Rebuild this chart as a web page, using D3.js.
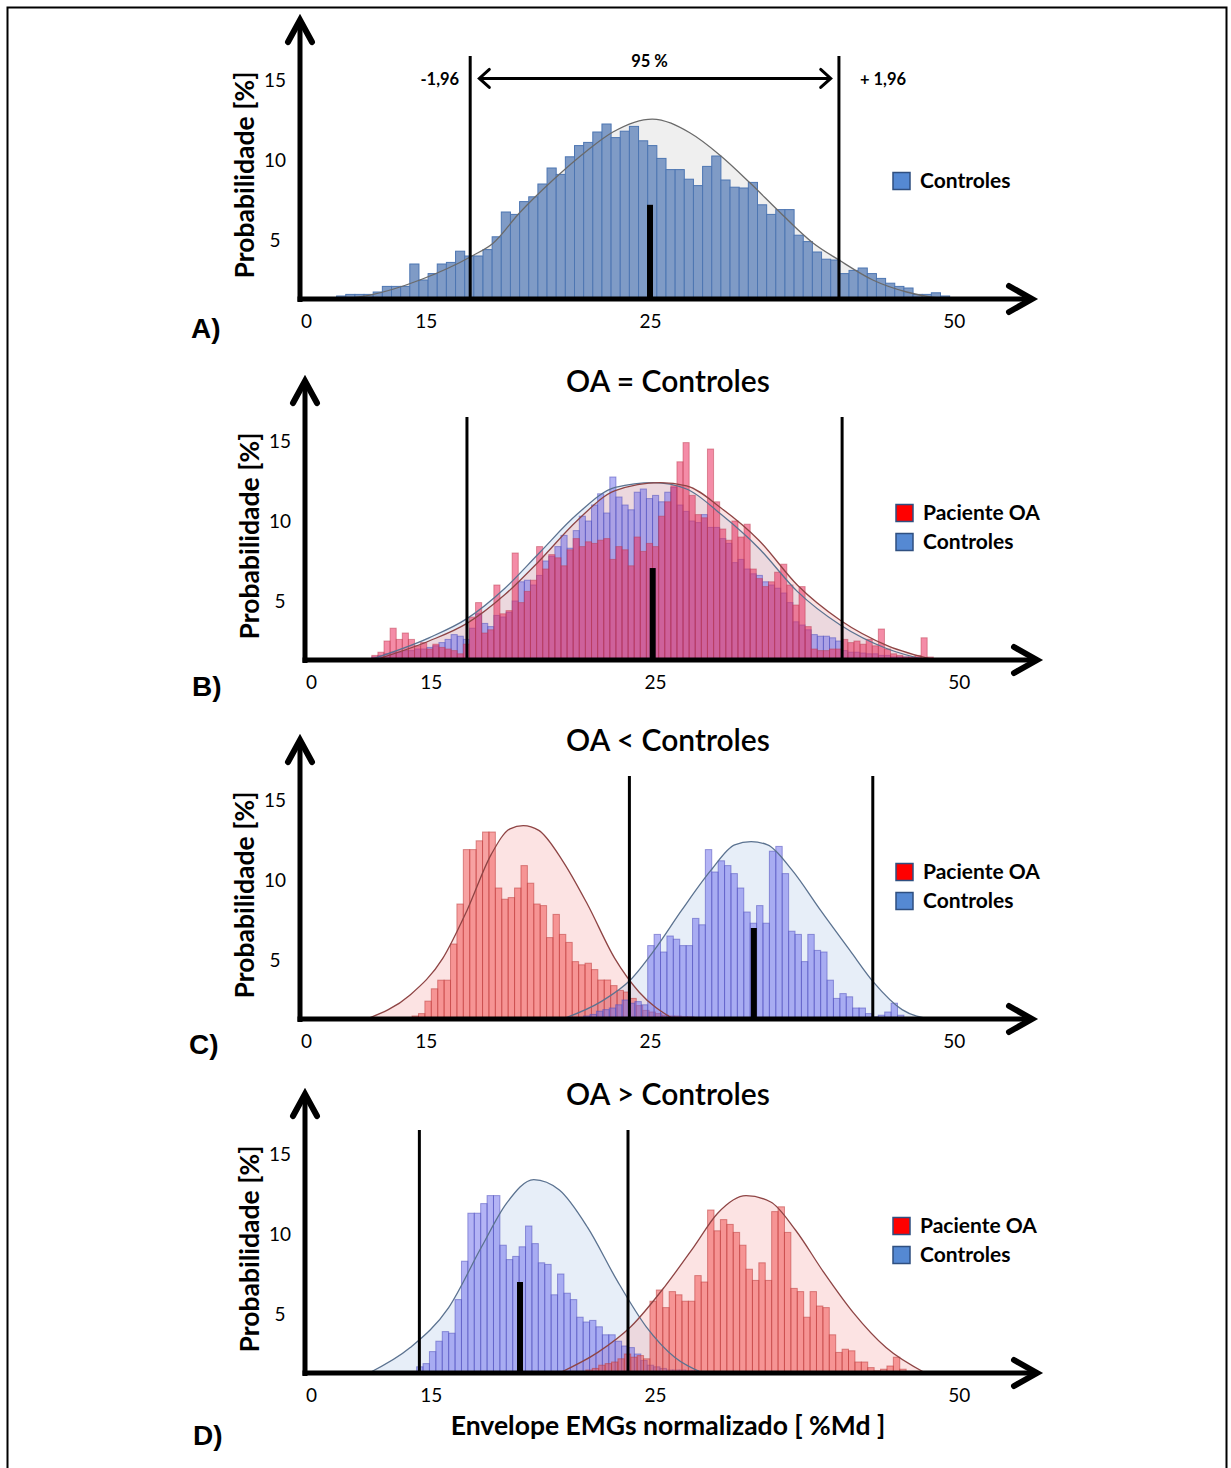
<!DOCTYPE html>
<meta charset="utf-8">
<style>
  body { margin: 0; background: #fff; }
  text { font-family: Lato, "Open Sans", sans-serif; fill: #000; }
  .tick { font-size: 19px; }
  .ylab { font-size: 26.5px; font-weight: bold; }
  .xlab { font-size: 26.5px; font-weight: bold; }
  .title { font-size: 30px; font-weight: 600; }
  .letter { font-family: "Liberation Sans", Arial, sans-serif; font-size: 28px; font-weight: bold; }
  .leg { font-size: 21px; font-weight: bold; }
  .ann { font-size: 16.5px; font-weight: bold; }
</style>
<svg width="1231" height="1468"></svg>
<script src="https://cdn.jsdelivr.net/npm/d3@7"></script>
<script>
  // eixo x esquemático: rótulos e onde ficam (em unidades de posição 0..80)
  const xTickLabels = ["0", "15", "25", "50"];
  const xTickAt = [0.7, 13.8, 38.3, 71.5];
  const yTicks = [5, 10, 15];

  // A) Controles (barras de 1 unidade a partir de 4)
  const aControles = [1.5,1.6,1.6,1.6,1.75,2.1,2.1,2.1,3.5,2.5,2.9,3.5,3.6,4.3,4.0,4.0,4.4,5.2,6.75,6.6,
    7.4,7.7,8.5,9.5,9.1,10.2,10.9,11.1,11.75,12.25,11.4,11.8,12.1,11.2,10.9,10.1,9.4,9.4,8.8,8.4,
    9.6,10.25,8.75,8.3,8.25,8.6,7.2,6.6,6.9,6.9,5.3,4.9,4.25,3.8,3.75,2.9,3.1,3.25,2.9,2.6,
    2.3,2.1,2.0,1.6,1.6,1.7,1.5];
  const aCurvaX = [4.4,7.65,13.1,18.8,21.1,24.0,27.65,31.4,34.2,38.5,42.6,45.9,49.2,52.5,56.1,58.9,62.6,66.3,68.9,71.0];
  const aCurvaY = [1.31,1.56,2.5,4.0,4.8,6.7,8.75,10.6,11.75,12.56,11.7,10.3,8.56,6.7,4.8,3.75,2.5,1.75,1.44,1.31];

  // B) OA = Controles
  const bControles = [1.5,1.6,1.7,1.8,1.8,1.9,1.9,2.0,2.0,2.1,2.2,2.4,2.6,2.9,2.8,2.6,
    3.3,4.2,3.6,3.4,4.1,4.0,4.3,5.0,6.2,6.3,6.0,6.6,7.5,7.8,8.4,9.1,
    8.3,9.4,10.3,10.0,11.0,11.7,10.5,12.75,11.5,11.0,10.7,11.8,12.0,11.4,11.6,11.2,
    11.8,12.1,11.0,10.6,10.0,9.9,10.4,9.6,9.6,8.9,8.6,7.4,7.6,7.0,6.7,6.6,
    6.2,6.0,5.8,5.5,4.9,3.7,3.5,3.2,2.9,2.8,2.8,2.7,2.5,1.9,1.8,1.8,
    1.75,1.7,1.7,1.6,1.6,1.5,1.5,1.5,1.45,1.45,1.4,1.4];
  const bPaciente = [1.6,1.8,2.5,3.3,2.6,3.0,2.6,2.2,2.4,2.0,2.3,2.1,2.0,1.9,1.7,2.3,
    4.0,4.9,3.0,3.2,6.0,4.2,4.4,8.0,4.9,5.6,6.3,8.4,7.0,7.9,7.7,7.2,
    8.2,8.9,8.4,8.7,8.6,8.8,8.9,7.6,8.4,8.2,7.2,9.0,8.1,8.6,8.4,10.3,
    11.2,12.2,13.7,14.9,11.6,10.4,10.2,14.5,11.2,9.5,8.8,10.0,9.0,9.8,7.0,6.4,
    5.9,6.2,6.8,7.3,6.0,4.75,5.9,3.4,2.0,1.9,1.9,2.0,2.0,2.6,2.4,2.5,
    2.3,2.6,2.2,3.25,2.0,1.7,1.6,1.5,1.5,1.6,2.7,1.5];
  const bCurvaCtrlX = [7.0,13.55,17.7,21.85,25.6,29.7,33.9,38.1,41.7,45.5,49.6,53.8,58.5,63.7,67.9];
  const bCurvaCtrlY = [1.31,2.7,3.9,5.8,8.0,10.4,12.1,12.4,12.0,10.4,8.3,5.6,3.5,2.0,1.31];
  const bCurvaOAX = [7.6,13.55,17.7,21.85,25.6,29.7,33.9,38.8,41.7,45.5,49.6,53.8,58.5,63.7,68.9];
  const bCurvaOAY = [1.31,2.5,3.6,5.4,7.5,10.0,11.9,12.4,12.2,10.8,8.8,6.0,3.8,2.2,1.31];

  // C) OA < Controles: histograma da esquerda (OA) e da direita (Controles)
  const cPaciente = [1.5,1.65,2.43,3.2,3.74,3.74,6.0,8.5,11.9,11.9,12.45,13.0,13.0,9.5,8.8,8.9,9.5,10.9,9.8,8.5,
    8.4,6.4,7.85,6.6,6.1,4.9,4.7,4.8,4.4,3.75,3.75,3.4,3.1,3.0,2.6,2.15,1.85,1.75,1.65,1.55,
    1.5,1.5,1.45,1.45,1.4,1.4];
  const cControles = [1.5,1.6,1.8,1.9,2.0,2.2,2.5,2.3,2.4,2.2,
    5.9,6.6,5.5,6.5,6.3,5.9,5.9,7.6,7.2,11.9,10.5,11.2,10.9,10.4,9.5,8.0,7.3,8.4,7.3,11.8,
    12.1,10.4,6.8,6.6,4.9,6.6,5.6,5.5,3.74,2.6,2.9,2.7,2.0,2.0,1.65,1.45,1.55,1.75,2.3,1.55];
  const cCurvaOAX = [7.3,12.0,15.6,18.25,20.9,22.95,24.4,26.1,28.7,31.4,34.4,37.05,40.8];
  const cCurvaOAY = [1.31,2.8,5.1,8.1,11.6,13.2,13.4,13.1,11.2,8.5,5.1,3.0,1.31];
  const cCurvaCtrlX = [28.7,32.9,36.1,38.7,41.7,44.9,47.5,49.3,51.1,53.8,56.9,60.1,62.7,65.8,69.0];
  const cCurvaCtrlY = [1.31,2.4,3.75,5.6,8.1,10.6,12.2,12.4,12.2,10.6,8.1,5.6,3.6,1.9,1.31];

  // D) OA > Controles: esquerda (Controles) e direita (OA)
  const dControles = [1.7,1.9,2.65,3.3,3.9,3.8,5.9,8.3,11.3,11.3,11.9,12.4,12.4,9.3,8.4,8.6,9.2,10.5,9.4,8.2,
    8.1,6.2,7.5,6.3,5.9,4.8,4.5,4.6,4.2,3.7,3.7,3.3,3.0,2.9,2.5,2.1,1.8,1.7,1.6,1.5,
    1.5,1.5,1.45,1.45,1.4,1.4];
  const dPaciente = [1.5,1.6,1.8,1.9,2.0,2.2,2.5,2.3,2.4,2.2,
    5.8,6.5,5.4,6.4,6.2,5.8,5.8,7.4,7.0,11.5,10.2,10.9,10.6,10.1,9.3,7.8,7.1,8.2,7.1,11.4,
    11.7,10.1,6.6,6.4,4.8,6.4,5.5,5.4,3.7,2.6,2.8,2.7,2.0,2.0,1.65,1.45,1.55,1.75,2.3,1.55];
  const dCurvaCtrlX = [7.0,11.5,15.7,19.3,22.0,25.0,27.8,30.9,34.1,37.3,40.4,43.5];
  const dCurvaCtrlY = [1.31,2.9,5.4,9.2,11.9,13.4,12.75,10.4,7.1,4.2,2.3,1.31];
  const dCurvaOAX = [27.8,32.0,35.6,39.3,42.5,45.1,48.2,50.9,53.6,56.7,59.9,63.5,67.8];
  const dCurvaOAY = [1.31,2.6,4.2,6.7,9.2,11.3,12.4,12.0,10.25,7.6,5.1,2.9,1.31];

  const azul = { bar: "rgba(105,105,235,0.5)", line: "rgba(80,80,190,0.55)", fill: "rgba(185,205,235,0.35)", curve: "#5b7290" };
  const verm = { bar: "rgba(240,70,70,0.5)", line: "rgba(190,60,60,0.55)", fill: "rgba(245,175,175,0.35)", curve: "#8e4444" };
  const cinza = { bar: "#7f9bc6", line: "#4d76b2", fill: "rgba(225,225,225,0.55)", curve: "#6a6a6a" };

  const svg = d3.select("svg");

  // moldura
  svg.append("path")
    .attr("d", "M7.5,1468 V7.5 H1226.5 V1468")
    .attr("fill", "none").attr("stroke", "#000").attr("stroke-width", 2);

  function painel(p) {
    const g = svg.append("g");
    const x = d3.scaleLinear().domain([0, 80]).range([p.ox, p.ox + 732]);
    const y = d3.scaleLinear().domain([0, 15]).range([p.oy + 21, p.oy - 219]);
    const base = p.oy;

    const area = d3.area().curve(d3.curveMonotoneX)
      .x(d => x(d[0])).y0(base).y1(d => Math.min(base, y(d[1])));
    const linha = d3.line().curve(d3.curveMonotoneX)
      .x(d => x(d[0])).y(d => Math.min(base, y(d[1])));

    // áreas das curvas
    p.series.forEach(s => {
      g.append("path").datum(d3.zip(s.cx, s.cy))
        .attr("d", area).attr("fill", s.cor.fill);
    });
    // barras
    p.series.forEach(s => {
      const w = x(s.step) - x(0);
      g.append("g").selectAll("rect").data(s.vals).join("rect")
        .attr("x", (d, i) => x(s.start + i * s.step))
        .attr("y", d => y(d))
        .attr("width", w)
        .attr("height", d => Math.max(0, base - y(d)))
        .attr("fill", s.cor.bar)
        .attr("stroke", s.cor.line)
        .attr("stroke-width", 1);
    });
    // contorno das curvas
    p.series.forEach(s => {
      g.append("path").datum(d3.zip(s.cx, s.cy))
        .attr("d", linha).attr("fill", "none")
        .attr("stroke", s.cor.curve).attr("stroke-width", 1.3);
    });

    // limites ±1,96 e média
    g.selectAll(".lim").data(p.lims).join("line")
      .attr("x1", d => x(d)).attr("x2", d => x(d))
      .attr("y1", base).attr("y2", y(16.5))
      .attr("stroke", "#000").attr("stroke-width", 3);
    g.append("line")
      .attr("x1", x(p.media)).attr("x2", x(p.media))
      .attr("y1", base).attr("y2", y(p.mediaAlt))
      .attr("stroke", "#000").attr("stroke-width", 6);

    // eixos com setas
    const topo = y(18.75);
    const fim = x(80);
    g.append("line").attr("x1", p.ox).attr("x2", p.ox).attr("y1", base + 3).attr("y2", topo + 2)
      .attr("stroke", "#000").attr("stroke-width", 5);
    g.append("line").attr("x1", p.ox - 2.5).attr("x2", fim - 2).attr("y1", base).attr("y2", base)
      .attr("stroke", "#000").attr("stroke-width", 5);
    g.append("path")
      .attr("d", `M${p.ox - 12},${topo + 22} L${p.ox},${topo} L${p.ox + 12},${topo + 22}`)
      .attr("fill", "none").attr("stroke", "#000").attr("stroke-width", 6)
      .attr("stroke-linecap", "round").attr("stroke-linejoin", "miter");
    g.append("path")
      .attr("d", `M${fim - 23},${base - 13} L${fim},${base} L${fim - 23},${base + 13}`)
      .attr("fill", "none").attr("stroke", "#000").attr("stroke-width", 6)
      .attr("stroke-linecap", "round").attr("stroke-linejoin", "miter");

    // rótulos dos eixos
    g.selectAll(".xt").data(xTickLabels).join("text")
      .attr("class", "tick").attr("text-anchor", "middle")
      .attr("x", (d, i) => x(xTickAt[i])).attr("y", base + 29).text(d => d);
    g.selectAll(".yt").data(yTicks).join("text")
      .attr("class", "tick").attr("text-anchor", "middle")
      .attr("x", p.ox - 25).attr("y", d => y(d) + 7).text(d => d);
    g.append("text").attr("class", "ylab").attr("text-anchor", "middle")
      .attr("transform", `translate(${p.ox - 46},${p.oy - 124}) rotate(-90)`)
      .text("Probabilidade [%]");
    g.append("text").attr("class", "letter")
      .attr("x", p.letraX).attr("y", p.oy + p.letraDy).text(p.letra);
    if (p.titulo) {
      g.append("text").attr("class", "title").attr("text-anchor", "middle")
        .attr("x", 668).attr("y", p.oy - 268).text(p.titulo);
    }

    // legenda
    const leg = g.append("g").attr("transform", `translate(${p.ox + p.legDx},${p.oy - 118})`);
    p.legenda.forEach((l, i) => {
      const dy = (i - p.legenda.length + 1) * 29;
      leg.append("rect").attr("x", 0).attr("y", dy - 8.5).attr("width", 17).attr("height", 17)
        .attr("fill", l.cor).attr("stroke", "#2f4f80").attr("stroke-width", 1.5);
      leg.append("text").attr("class", "leg").attr("x", 27).attr("y", dy + 7).text(l.nome);
    });
    return { g, x, y };
  }

  const legAzul = { nome: "Controles", cor: "#5589d3" };
  const legVerm = { nome: "Paciente OA", cor: "#ff0000" };

  // A
  const A = painel({
    ox: 300, oy: 299, letra: "A)", letraX: 191, letraDy: 39, legDx: 593,
    series: [{ vals: aControles, start: 4, step: 1, cx: aCurvaX, cy: aCurvaY, cor: cinza }],
    lims: [18.6, 58.9], media: 38.25, mediaAlt: 7.2,
    legenda: [legAzul]
  });
  // seta 95 %
  const ya = A.y(15.1);
  A.g.append("line").attr("x1", A.x(19.6)).attr("x2", A.x(58.0)).attr("y1", ya).attr("y2", ya)
    .attr("stroke", "#000").attr("stroke-width", 3);
  A.g.append("path").attr("d", `M${A.x(19.6) + 10},${ya - 9} L${A.x(19.6)},${ya} L${A.x(19.6) + 10},${ya + 9}`)
    .attr("fill", "none").attr("stroke", "#000").attr("stroke-width", 3).attr("stroke-linecap", "round");
  A.g.append("path").attr("d", `M${A.x(58.0) - 10},${ya - 9} L${A.x(58.0)},${ya} L${A.x(58.0) - 10},${ya + 9}`)
    .attr("fill", "none").attr("stroke", "#000").attr("stroke-width", 3).attr("stroke-linecap", "round");
  A.g.append("text").attr("class", "ann").attr("text-anchor", "middle")
    .attr("x", A.x(38.2)).attr("y", ya - 11).text("95 %");
  A.g.append("text").attr("class", "ann").attr("text-anchor", "end")
    .attr("x", A.x(17.4)).attr("y", ya + 7).text("-1,96");
  A.g.append("text").attr("class", "ann").attr("text-anchor", "start")
    .attr("x", A.x(61.2)).attr("y", ya + 7).text("+ 1,96");

  // B
  painel({
    ox: 305, oy: 660, letra: "B)", letraX: 192, letraDy: 36, legDx: 591, titulo: "OA = Controles",
    series: [
      { vals: bControles, start: 7.3, step: 0.667, cx: bCurvaCtrlX, cy: bCurvaCtrlY, cor: azul },
      { vals: bPaciente, start: 7.3, step: 0.667, cx: bCurvaOAX, cy: bCurvaOAY,
        cor: { bar: "rgba(235,45,95,0.55)", line: "rgba(190,60,80,0.5)", fill: verm.fill, curve: verm.curve } }
    ],
    lims: [17.7, 58.7], media: 38.0, mediaAlt: 7.06,
    legenda: [legVerm, legAzul]
  });

  // C
  painel({
    ox: 300, oy: 1019, letra: "C)", letraX: 189, letraDy: 35, legDx: 596, titulo: "OA < Controles",
    series: [
      { vals: cPaciente, start: 12.25, step: 0.7, cx: cCurvaOAX, cy: cCurvaOAY, cor: verm },
      { vals: cControles, start: 31.0, step: 0.7, cx: cCurvaCtrlX, cy: cCurvaCtrlY, cor: azul }
    ],
    lims: [36.0, 62.6], media: 49.6, mediaAlt: 7.0,
    legenda: [legVerm, legAzul]
  });

  // D
  const D = painel({
    ox: 305, oy: 1373, letra: "D)", letraX: 193, letraDy: 72, legDx: 588, titulo: "OA > Controles",
    series: [
      { vals: dControles, start: 12.2, step: 0.7, cx: dCurvaCtrlX, cy: dCurvaCtrlY, cor: azul },
      { vals: dPaciente, start: 30.7, step: 0.7, cx: dCurvaOAX, cy: dCurvaOAY, cor: verm }
    ],
    lims: [12.5, 35.3], media: 23.5, mediaAlt: 7.0,
    legenda: [legVerm, legAzul]
  });
  D.g.append("text").attr("class", "xlab").attr("text-anchor", "middle")
    .attr("x", 668).attr("y", 1435).text("Envelope EMGs normalizado [ %Md ]");
</script>
